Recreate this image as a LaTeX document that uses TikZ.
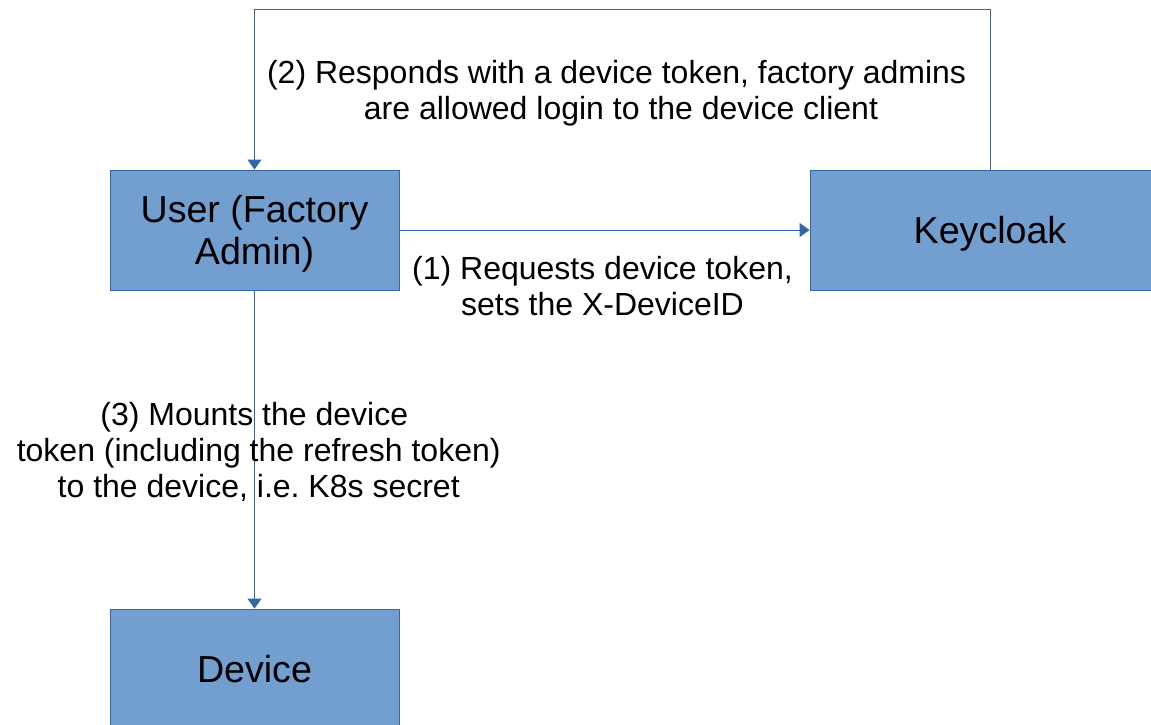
\documentclass[tikz,border=0pt]{standalone}
\usepackage{fontspec}
\setmainfont{Liberation Sans}
\usetikzlibrary{arrows.meta}
\frenchspacing
\definecolor{boxfill}{HTML}{729FCF}
\definecolor{boxline}{HTML}{3465A4}
\newcommand\lnstrut{\rule[-0.212em]{0pt}{1.117em}}
\tikzset{
  box/.style={draw=boxline, fill=boxfill, line width=0.9pt, inner sep=0pt,
    align=center, font={\fontsize{37.6pt}{42pt}\selectfont}},
  conn/.style={draw=boxline, line width=0.9pt, -{Triangle[width=14pt,length=10pt]}},
  lbl/.style={inner sep=0pt, align=center, anchor=north,
    font={\fontsize{32pt}{36pt}\selectfont}}
}
\begin{document}
\begin{tikzpicture}[x=1pt,y=-1pt]
\useasboundingbox (0,0) rectangle (1151,725);
\node[box, minimum width=289pt, minimum height=120pt] (user) at (254.5,230)
  {\lnstrut User (Factory\\\lnstrut Admin)};
\node[box, minimum width=360pt, minimum height=120pt] (keycloak) at (990,230)
  {\lnstrut Keycloak};
\node[box, minimum width=289pt, minimum height=120pt] (device) at (254.5,669)
  {\lnstrut Device};
\coordinate (tr) at (990,9);
\coordinate (tl) at (254.5,9);
\draw[conn] (user.east) -- (keycloak.west);
\draw[conn] (keycloak.north) -- (tr) -- (tl) -- (user.north);
\draw[conn] (user.south) -- (device.north);
\node[lbl] (l2) at (621,54)
  {\lnstrut (2) Responds with a device token, factory admins\hspace*{0.278em}\\\lnstrut are allowed login to the device client};
\node[lbl] (l1) at (602.5,250)
  {\lnstrut (1) Requests device token,\\\lnstrut sets the X-DeviceID};
\node[lbl] (l3) at (258.7,396)
  {\lnstrut (3) Mounts the device\hspace*{0.278em}\\\lnstrut token (including the refresh token)\\\lnstrut to the device, i.e. K8s secret};
\end{tikzpicture}
\end{document}
